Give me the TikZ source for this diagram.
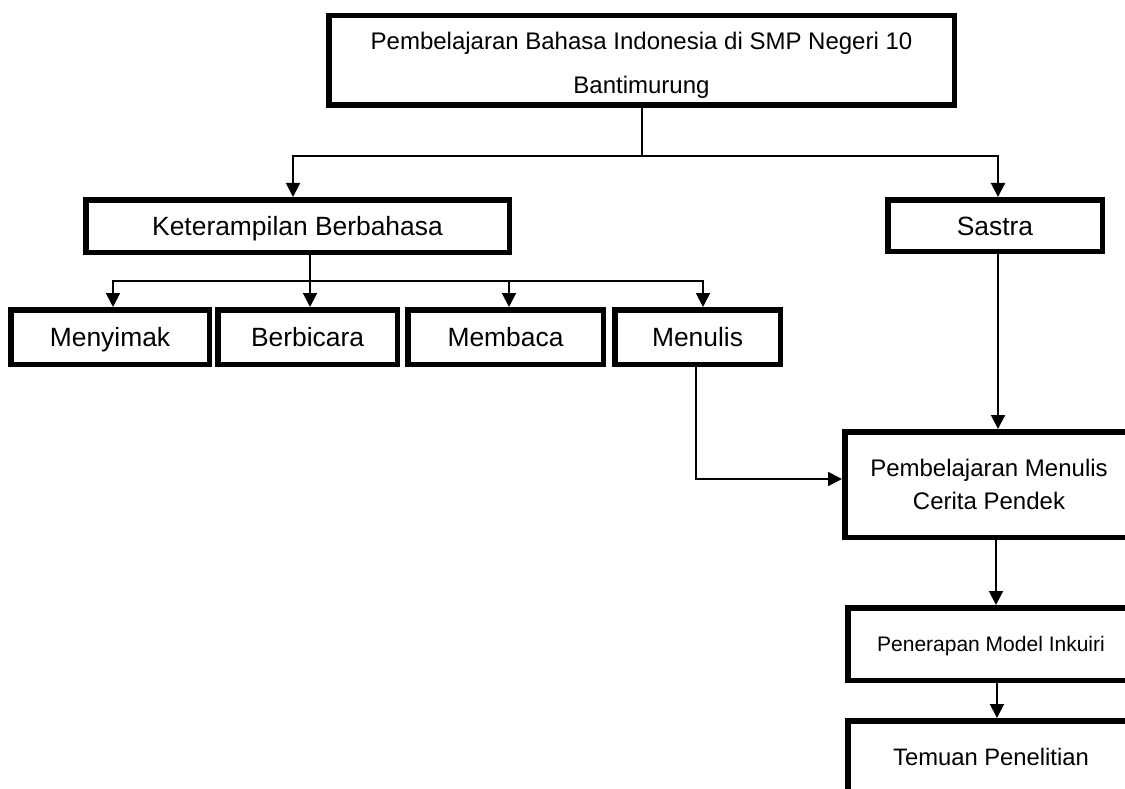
\documentclass[tikz,border=0pt]{standalone}
\usepackage{fontspec}
\setmainfont{Liberation Sans}
\usetikzlibrary{arrows.meta}
\begin{document}
\begin{tikzpicture}[x=1pt,y=-1pt,
  box/.style={draw=black, line width=5.5pt, fill=white, inner sep=0pt, align=center},
  conn/.style={line width=2pt, line cap=butt},
  arr/.style={conn, -{Triangle[length=14pt,width=14pt]}},
  fbig/.style={font=\fontsize{26.4}{30}\selectfont, text height=19pt, text depth=0pt},
]
\clip (0,0) rectangle (1125,789);
\fill[white] (0,0) rectangle (1125,789);

% nodes
\node[box, minimum width=625.5pt, minimum height=89.5pt, font=\fontsize{24}{44}\selectfont]
  (top) at (641.5,60.5) {\rule{0pt}{26pt}Pembelajaran Bahasa Indonesia di SMP Negeri 10\\Bantimurung};
\node[box, fbig, minimum width=423.5pt, minimum height=52.5pt] (ket) at (297.5,226) {Keterampilan Berbahasa};
\node[box, fbig, minimum width=214.5pt, minimum height=51.5pt] (sas) at (995,225.5) {Sastra};
\node[box, fbig, minimum width=198.5pt, minimum height=54.5pt] (mey) at (110,337) {Menyimak};
\node[box, fbig, minimum width=179.5pt, minimum height=54.5pt] (ber) at (307.5,337) {Berbicara};
\node[box, fbig, minimum width=195.5pt, minimum height=54.5pt] (mem) at (505.5,337) {Membaca};
\node[box, fbig, minimum width=165.5pt, minimum height=54.5pt] (men) at (697.5,337) {Menulis};
\node[box, minimum width=288.5pt, minimum height=105.5pt, font=\fontsize{24}{33}\selectfont]
  (pem) at (989,484.5) {Pembelajaran Menulis\\Cerita Pendek};
\node[box, minimum width=286.5pt, minimum height=72.5pt, font=\fontsize{21}{25}\selectfont,
      text height=15.1pt, text depth=0pt]
  (pen) at (991,644) {Penerapan Model Inkuiri};
\node[box, minimum width=286.5pt, minimum height=72.5pt, font=\fontsize{23.8}{28}\selectfont,
      text height=17.1pt, text depth=0pt]
  (tem) at (991,757) {Temuan Penelitian};

% connectors
\coordinate (j1) at (641.5,156);
\draw[conn] (top.south) -- (j1);
\draw[arr] (j1) -| ([xshift=-4.5pt]ket.north);
\draw[arr] (j1) -| ([xshift=3pt]sas.north);

\coordinate (j2) at (310,281);
\draw[conn] ([xshift=12.5pt]ket.south) -- (j2);
\draw[arr] (j2) -| ([xshift=3pt]mey.north);
\draw[arr] (j2) -| ([xshift=2.5pt]ber.north);
\draw[arr] (j2) -| ([xshift=3.5pt]mem.north);
\draw[arr] (j2) -| ([xshift=5.5pt]men.north);

\draw[arr] ([xshift=-1.5pt]men.south) |- ([yshift=5.5pt]pem.west);
\draw[arr] ([xshift=3pt]sas.south) -- ([xshift=3pt]sas.south |- pem.north);
\draw[arr] ([xshift=7pt]pem.south) -- ([xshift=7pt]pem.south |- pen.north);
\draw[arr] ([xshift=6pt]pen.south) -- ([xshift=6pt]pen.south |- tem.north);
\end{tikzpicture}
\end{document}
